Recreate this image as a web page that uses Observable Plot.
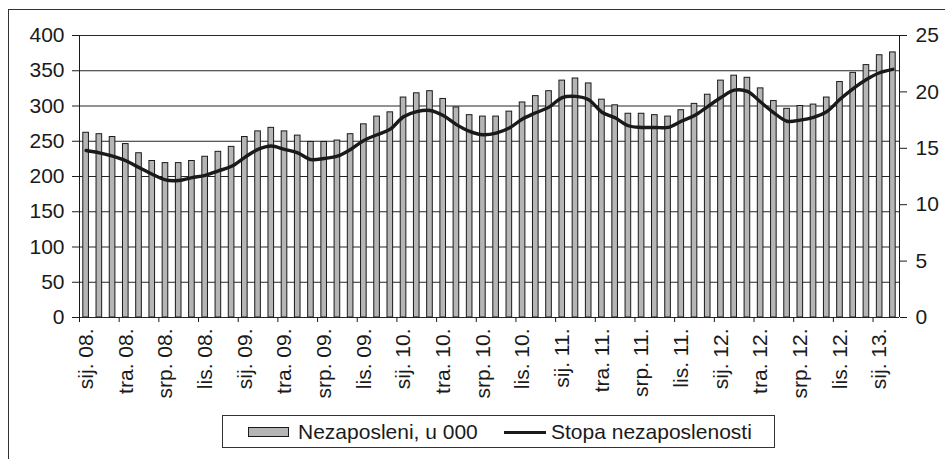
<!DOCTYPE html>
<html>
<head>
<meta charset="utf-8">
<script src="https://cdn.jsdelivr.net/npm/d3@7"></script>
<script src="https://cdn.jsdelivr.net/npm/@observablehq/plot@0.6"></script>
<style>
  body { margin: 0; background: #fff; }
  #wrap { position: relative; width: 945px; height: 459px; overflow: hidden; font-family: "Liberation Sans", Arial, sans-serif; color: #1a1a1a; }
  #frame { position: absolute; left: 8px; top: 9px; width: 1000px; height: 500px; border-left: 1px solid #333; border-top: 1px solid #333; box-sizing: border-box; }
  #chart { position: absolute; left: 0; top: 0; }
  #legend { position: absolute; left: 222px; top: 415px; width: 553px; height: 33px; border: 1px solid #333; box-sizing: border-box; font-size: 21px; }
  #legend .sw-bar { position: absolute; left: 25px; top: 11px; width: 41px; height: 10px; background: #b5b5b5; border: 1.5px solid #1a1a1a; box-sizing: border-box; }
  #legend .sw-line { position: absolute; left: 281px; top: 15px; width: 42px; height: 3px; background: #1a1a1a; }
  #legend .t { position: absolute; top: 4px; line-height: 24px; white-space: nowrap; }
</style>
</head>
<body>
<div id="wrap">
  <div id="frame"></div>
  <div id="chart"></div>
  <div id="legend">
    <div class="sw-bar"></div><div class="t" id="l1" style="left:75px"></div>
    <div class="sw-line"></div><div class="t" id="l2" style="left:328px"></div>
  </div>
</div>
<script>
// Monthly categories, Jan 2008 - Feb 2013
const categories = [
  "sij. 08.","velj. 08.","ožu. 08.","tra. 08.","svi. 08.","lip. 08.","srp. 08.","kol. 08.","ruj. 08.","lis. 08.","stu. 08.","pro. 08.",
  "sij. 09.","velj. 09.","ožu. 09.","tra. 09.","svi. 09.","lip. 09.","srp. 09.","kol. 09.","ruj. 09.","lis. 09.","stu. 09.","pro. 09.",
  "sij. 10.","velj. 10.","ožu. 10.","tra. 10.","svi. 10.","lip. 10.","srp. 10.","kol. 10.","ruj. 10.","lis. 10.","stu. 10.","pro. 10.",
  "sij. 11.","velj. 11.","ožu. 11.","tra. 11.","svi. 11.","lip. 11.","srp. 11.","kol. 11.","ruj. 11.","lis. 11.","stu. 11.","pro. 11.",
  "sij. 12.","velj. 12.","ožu. 12.","tra. 12.","svi. 12.","lip. 12.","srp. 12.","kol. 12.","ruj. 12.","lis. 12.","stu. 12.","pro. 12.",
  "sij. 13.","velj. 13."
];
// Nezaposleni, u 000 (left axis)
const unemployed = [
  262,260,256,246,233,222,219,219,222,228,235,242,
  256,264,269,264,258,249,249,251,260,274,285,291,
  312,318,321,310,298,287,285,285,292,305,314,321,
  336,339,332,309,301,289,289,287,285,294,303,316,
  336,343,340,325,307,296,300,302,312,334,347,358,
  372,376
];
// Stopa nezaposlenosti, % (right axis)
const rate = [
  14.8,14.6,14.3,13.9,13.3,12.7,12.2,12.15,12.4,12.6,13.0,13.4,
  14.2,14.9,15.2,14.9,14.6,14.0,14.1,14.3,14.9,15.7,16.2,16.7,
  17.8,18.25,18.35,17.9,17.1,16.5,16.2,16.35,16.8,17.6,18.15,18.65,
  19.5,19.6,19.3,18.2,17.7,17.0,16.85,16.85,16.85,17.4,17.9,18.7,
  19.5,20.15,20.05,19.1,18.15,17.4,17.5,17.75,18.25,19.35,20.3,21.1,
  21.7,22.0
];
const tickLabels = [
  "sij. 08.","tra. 08.","srp. 08.","lis. 08.",
  "sij. 09.","tra. 09.","srp. 09.","lis. 09.",
  "sij. 10.","tra. 10.","srp. 10.","lis. 10.",
  "sij. 11.","tra. 11.","srp. 11.","lis. 11.",
  "sij. 12.","tra. 12.","srp. 12.","lis. 12.",
  "sij. 13."
];
const leftTicks = [0,50,100,150,200,250,300,350,400];
const rightTicks = [0,5,10,15,20,25];
const seriesNames = ["Nezaposleni, u 000", "Stopa nezaposlenosti"];

const leftMax = 400, rightMax = 25, k = leftMax / rightMax;
const rows = categories.map((c, i) => ({i, c, v: unemployed[i], r: rate[i]}));
const labelIdx = tickLabels.map(l => categories.indexOf(l));

const font = "Liberation Sans, Arial, sans-serif";
const chart = Plot.plot({
  width: 945, height: 410,
  marginLeft: 79, marginRight: 46, marginTop: 35, marginBottom: 93,
  style: {fontFamily: font, fontSize: "21px", color: "#1a1a1a", background: "transparent"},
  x: {type: "linear", domain: [0, categories.length], axis: null},
  y: {domain: [0, leftMax], axis: null},
  marks: [
    Plot.gridY(leftTicks, {stroke: "#262626", strokeOpacity: 1, strokeWidth: 1}),
    Plot.rectY(rows, {x1: "i", x2: d => d.i + 1, y: "v", fill: "#b5b5b5", stroke: "#1a1a1a", strokeWidth: 1, insetLeft: 3.8, insetRight: 3.8}),
    Plot.ruleX([0, categories.length], {stroke: "#1a1a1a", strokeWidth: 1}),
    Plot.lineY(rows, {x: d => d.i + 0.5, y: d => d.r * k, curve: "catmull-rom", stroke: "#1a1a1a", strokeWidth: 3.4}),
    Plot.axisY({anchor: "left", ticks: leftTicks, tickSize: 7, tickPadding: 8, label: null, fontSize: 21}),
    Plot.axisY({anchor: "right", ticks: rightTicks.map(t => t * k), tickFormat: d => String(Math.round(d / k)), tickSize: 7, tickPadding: 9, label: null, fontSize: 21}),
    Plot.axisX({ticks: labelIdx, tickFormat: () => "", tickSize: 5, label: null}),
    Plot.axisX({ticks: labelIdx.map(t => t + 0.5), tickFormat: d => categories[Math.round(d - 0.5)], tickSize: 0, tickRotate: -90, tickPadding: 11, label: null, fontSize: 21})
  ]
});
document.getElementById("chart").appendChild(chart);
document.getElementById("l1").textContent = seriesNames[0];
document.getElementById("l2").textContent = seriesNames[1];
</script>
</body>
</html>
